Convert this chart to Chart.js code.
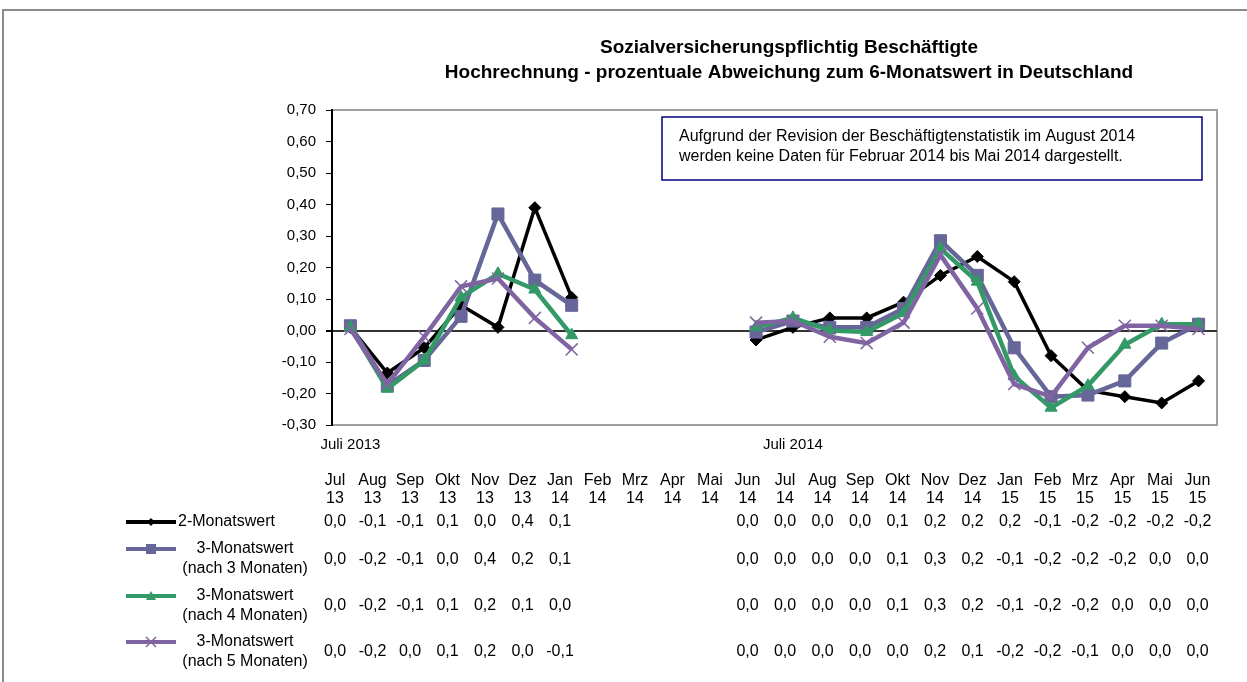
<!DOCTYPE html>
<html>
<head>
<meta charset="utf-8">
<script src="https://cdn.jsdelivr.net/npm/chart.js@4/dist/chart.umd.min.js"></script>
<style>
  html, body { margin: 0; padding: 0; background: #fff; }
</style>
</head>
<body>
<canvas id="chart" width="1247" height="682"></canvas>
<script>
// Monate Jul 2013 - Jun 2015
const months = ['Jul', 'Aug', 'Sep', 'Okt', 'Nov', 'Dez', 'Jan', 'Feb', 'Mrz', 'Apr', 'Mai', 'Jun',
                'Jul', 'Aug', 'Sep', 'Okt', 'Nov', 'Dez', 'Jan', 'Feb', 'Mrz', 'Apr', 'Mai', 'Jun'];
const years = ['13', '13', '13', '13', '13', '13', '14', '14', '14', '14', '14', '14',
               '14', '14', '14', '14', '14', '14', '15', '15', '15', '15', '15', '15'];
const xAxisLabels = ['Juli 2013', '', '', '', '', '', '', '', '', '', '', '',
                     'Juli 2014', '', '', '', '', '', '', '', '', '', '', ''];

const zweiMonatswert = [0.01, -0.135, -0.055, 0.08, 0.01, 0.39, 0.105, null, null, null, null,
                        -0.03, 0.01, 0.04, 0.04, 0.09, 0.175, 0.235, 0.155, -0.08, -0.19, -0.21, -0.23, -0.16];
const dreiNach3 = [0.015, -0.175, -0.095, 0.045, 0.37, 0.16, 0.08, null, null, null, null,
                   -0.005, 0.03, 0.01, 0.01, 0.07, 0.285, 0.175, -0.055, -0.21, -0.205, -0.16, -0.04, 0.02];
const dreiNach4 = [0.01, -0.185, -0.095, 0.105, 0.18, 0.13, -0.015, null, null, null, null,
                   0.01, 0.04, 0.0, -0.005, 0.055, 0.26, 0.155, -0.145, -0.245, -0.175, -0.045, 0.02, 0.02];
const dreiNach5 = [0.005, -0.17, -0.02, 0.14, 0.165, 0.04, -0.06, null, null, null, null,
                   0.025, 0.03, -0.02, -0.04, 0.025, 0.24, 0.07, -0.17, -0.21, -0.055, 0.015, 0.015, 0.005];

const legendLines = [['2-Monatswert'], ['3-Monatswert', '(nach 3 Monaten)'],
                     ['3-Monatswert', '(nach 4 Monaten)'], ['3-Monatswert', '(nach 5 Monaten)']];
const titleLines = ['Sozialversicherungspflichtig Beschäftigte',
                    'Hochrechnung - prozentuale Abweichung zum 6-Monatswert in Deutschland'];
const noteLines = ['Aufgrund der Revision der Beschäftigtenstatistik im August 2014',
                   'werden keine Daten für Februar 2014 bis Mai 2014 dargestellt.'];

const FONT = '"Liberation Sans", Arial, sans-serif';
const categories = months.map((m, i) => m + ' ' + years[i]);

function fmt(v) {
  const r = Math.sign(v) * Math.round(Math.abs(v) * 10) / 10;
  return (r === 0 ? 0 : r).toFixed(1).replace('.', ',');
}

function drawMarker(ctx, style, x, y, color) {
  ctx.save();
  ctx.fillStyle = color;
  ctx.strokeStyle = color;
  ctx.beginPath();
  if (style === 'rectRot') {
    ctx.moveTo(x, y - 4); ctx.lineTo(x + 4, y); ctx.lineTo(x, y + 4); ctx.lineTo(x - 4, y);
    ctx.closePath(); ctx.fill();
  } else if (style === 'rect') {
    ctx.rect(x - 5, y - 5, 10, 10); ctx.fill();
  } else if (style === 'triangle') {
    ctx.moveTo(x, y - 5); ctx.lineTo(x + 5, y + 4); ctx.lineTo(x - 5, y + 4);
    ctx.closePath(); ctx.fill();
  } else {
    ctx.lineWidth = 1.5;
    ctx.moveTo(x - 5, y - 5); ctx.lineTo(x + 5, y + 5);
    ctx.moveTo(x + 5, y - 5); ctx.lineTo(x - 5, y + 5);
    ctx.stroke();
  }
  ctx.restore();
}

const framePlugin = {
  id: 'frame',
  beforeDraw(chart) {
    const { ctx, chartArea: a } = chart;
    ctx.save();
    ctx.fillStyle = '#fff';
    ctx.fillRect(0, 0, chart.width, chart.height);
    ctx.strokeStyle = '#8c8c8c';
    ctx.lineWidth = 2;
    ctx.beginPath();
    ctx.moveTo(3, chart.height);
    ctx.lineTo(3, 10);
    ctx.lineTo(chart.width, 10);
    ctx.stroke();
    ctx.strokeStyle = '#a0a0a0';
    ctx.strokeRect(a.left, a.top, a.right - a.left, a.bottom - a.top);
    ctx.restore();
  }
};

const textPlugin = {
  id: 'texts',
  afterDraw(chart) {
    const ctx = chart.ctx;
    ctx.save();
    // Titel
    ctx.fillStyle = '#000';
    ctx.textAlign = 'center';
    ctx.textBaseline = 'middle';
    ctx.font = 'bold 19px ' + FONT;
    ctx.fillText(titleLines[0], 789, 48);
    ctx.fillText(titleLines[1], 789, 73);

    // Hinweisbox
    ctx.fillStyle = '#fff';
    ctx.fillRect(662, 117, 540, 63);
    ctx.strokeStyle = '#000080';
    ctx.lineWidth = 1.5;
    ctx.strokeRect(662, 117, 540, 63);
    ctx.fillStyle = '#000';
    ctx.textAlign = 'left';
    ctx.font = '16px ' + FONT;
    ctx.fillText(noteLines[0], 679, 137);
    ctx.fillText(noteLines[1], 679, 157);

    // Datentabelle
    const colX = i => 335 + i * 37.5;
    ctx.textAlign = 'center';
    months.forEach((m, i) => {
      ctx.fillText(m, colX(i), 481);
      ctx.fillText(years[i], colX(i), 499);
    });
    const rowY = [522, 560, 606, 652];
    const lineY = [522, 549, 596, 642];
    chart.data.datasets.forEach((ds, r) => {
      ds.data.forEach((v, i) => {
        if (v !== null) ctx.fillText(fmt(v), colX(i), rowY[r]);
      });
      // Legendensymbol
      ctx.strokeStyle = ds.borderColor;
      ctx.lineWidth = 4;
      ctx.beginPath();
      ctx.moveTo(126, lineY[r]);
      ctx.lineTo(176, lineY[r]);
      ctx.stroke();
      drawMarker(ctx, ds.pointStyle, 151, lineY[r], ds.borderColor);
      const lines = legendLines[r];
      ctx.fillStyle = '#000';
      if (lines.length === 1) {
        ctx.textAlign = 'left';
        ctx.fillText(lines[0], 178, lineY[r]);
        ctx.textAlign = 'center';
      } else {
        ctx.fillText(lines[0], 245, lineY[r]);
        ctx.fillText(lines[1], 245, lineY[r] + 20);
      }
    });
    ctx.restore();
  }
};

const seriesStyle = (label, data, color, style, radius, width, order) => ({
  label, data, order,
  borderColor: color,
  backgroundColor: color,
  borderWidth: width,
  pointStyle: style,
  pointRadius: radius,
  pointBorderWidth: style === 'crossRot' ? 1.5 : 1,
  pointBackgroundColor: color,
  pointBorderColor: color,
  tension: 0,
  spanGaps: false
});

new Chart(document.getElementById('chart'), {
  type: 'line',
  data: {
    labels: categories,
    datasets: [
      seriesStyle(legendLines[0].join(' '), zweiMonatswert, '#000000', 'rectRot', 6, 3.5, 4),
      seriesStyle(legendLines[1].join(' '), dreiNach3, '#666699', 'rect', 8.5, 4.5, 3),
      seriesStyle(legendLines[2].join(' '), dreiNach4, '#339966', 'triangle', 7, 4.5, 2),
      seriesStyle(legendLines[3].join(' '), dreiNach5, '#8064a2', 'crossRot', 8.5, 4.5, 1)
    ]
  },
  options: {
    responsive: false,
    animation: false,
    layout: { padding: { left: 282, right: 30, top: 110, bottom: 229 } },
    plugins: {
      legend: { display: false },
      title: { display: false },
      tooltip: { enabled: false }
    },
    scales: {
      x: {
        offset: true,
        clip: false,
        grid: { display: false },
        border: { display: false },
        afterFit: s => { s.height = 28; },
        ticks: {
          autoSkip: false,
          maxRotation: 0,
          color: '#000',
          font: { family: FONT, size: 15 },
          padding: 3,
          callback: (v, i) => xAxisLabels[i]
        }
      },
      y: {
        min: -0.3,
        max: 0.7,
        afterFit: s => { s.width = 50; },
        border: { color: '#000', width: 2 },
        grid: {
          drawOnChartArea: true,
          color: c => Math.abs(c.tick.value) < 1e-9 ? '#333' : 'rgba(0,0,0,0)',
          lineWidth: c => Math.abs(c.tick.value) < 1e-9 ? 2 : 1,
          tickColor: '#000',
          tickLength: 6
        },
        ticks: {
          stepSize: 0.1,
          color: '#000',
          padding: 10,
          font: { family: FONT, size: 15 },
          callback: v => v.toFixed(2).replace('.', ',')
        }
      }
    }
  },
  plugins: [framePlugin, textPlugin]
});
</script>
</body>
</html>
